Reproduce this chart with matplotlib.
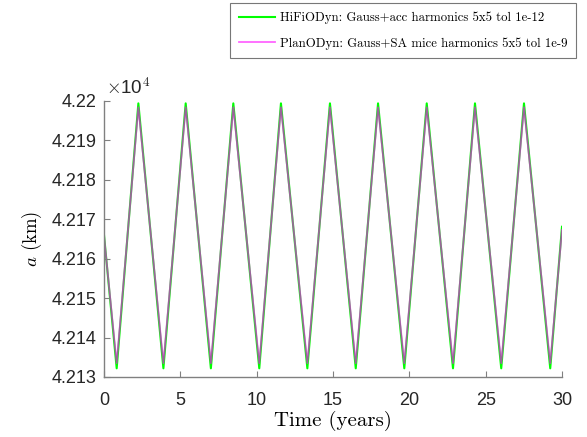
import matplotlib
matplotlib.use("Agg")
import matplotlib.pyplot as plt

# Data (time in years, semi-major axis in km)
t_hifi = [0.0, 0.83, 2.25, 3.89, 5.35, 7.00, 8.47, 10.17, 11.59, 13.32, 14.80,
          16.49, 17.95, 19.67, 21.14, 22.86, 24.30, 26.02, 27.51, 29.23, 30.0]
a_hifi = [42166.0, 42132.2, 42199.4, 42132.2, 42199.4, 42132.2, 42199.4, 42132.2,
          42199.4, 42132.2, 42199.4, 42132.2, 42199.4, 42132.2, 42199.4, 42132.2,
          42199.4, 42132.2, 42199.4, 42132.2, 42168.1]
t_plan = [0.0, 0.83, 2.25, 3.89, 5.35, 7.00, 8.47, 10.17, 11.59, 13.32, 14.80,
          16.49, 17.95, 19.67, 21.14, 22.86, 24.30, 26.02, 27.51, 29.23, 30.0]
a_plan = [42165.8, 42133.5, 42198.4, 42133.5, 42198.4, 42133.5, 42198.4, 42133.5,
          42198.4, 42133.5, 42198.4, 42133.5, 42198.4, 42133.5, 42198.4, 42133.5,
          42198.4, 42133.5, 42198.4, 42133.5, 42167.3]

x_ticks = [0, 5, 10, 15, 20, 25, 30]
y_ticks = [42130, 42140, 42150, 42160, 42170, 42180, 42190, 42200]
y_ticklabels = ['4.213', '4.214', '4.215', '4.216', '4.217', '4.218', '4.219', '4.22']

label_hifi = 'HiFiODyn: Gauss+acc harmonics 5x5 tol 1e-12'
label_plan = 'PlanODyn: Gauss+SA mice harmonics 5x5 tol 1e-9'

plt.rcParams['mathtext.fontset'] = 'cm'
tick_font = 'Liberation Sans'
serif_font = ['cmr10', 'DejaVu Serif']

fig = plt.figure(figsize=(5.87, 4.37), dpi=100)
ax = fig.add_axes([0.1772, 0.1373, 0.7802, 0.6316])

l1, = ax.plot(t_hifi, a_hifi, color='#00ff00', lw=1.5, label=label_hifi)
l2, = ax.plot(t_plan, a_plan, color='#ff00ff', lw=1.3, alpha=0.6, label=label_plan)

ax.set_xlim(0, 30)
ax.set_ylim(42130, 42200)
ax.set_xticks(x_ticks)
ax.set_xticklabels([str(v) for v in x_ticks], fontfamily=tick_font, fontsize=13, color='#262626')
ax.set_yticks(y_ticks)
ax.set_yticklabels(y_ticklabels, fontfamily=tick_font, fontsize=13, color='#262626')

for s in ['top', 'right']:
    ax.spines[s].set_visible(False)
for s in ['left', 'bottom']:
    ax.spines[s].set_color('#808080')
    ax.spines[s].set_linewidth(1.0)
ax.tick_params(direction='in', length=4, width=0.8, color='#808080')
ax.tick_params(axis='x', pad=11)
ax.tick_params(axis='y', pad=5.5)

ax.text(0.005, 1.012, r'$\times$10$^4$', transform=ax.transAxes, fontsize=13.5,
        fontfamily=tick_font, color='#262626', ha='left', va='bottom')

ax.set_xlabel('Time (years)', fontfamily=serif_font, fontsize=15, labelpad=1)
ax.set_ylabel(r'$a$ (km)', fontfamily=serif_font, fontsize=13.5, labelpad=5)

leg = fig.legend(handles=[l1, l2], loc='upper left', bbox_to_anchor=(230 / 587, 1 - 3 / 437),
                 prop={'family': serif_font, 'size': 9.2}, frameon=True, fancybox=False,
                 handlelength=2.8, handletextpad=0.4, borderpad=0.7, labelspacing=1.0,
                 borderaxespad=0)
leg.get_frame().set_edgecolor('#555555')
leg.get_frame().set_linewidth(0.8)

fig.savefig('out.png', dpi=100)
